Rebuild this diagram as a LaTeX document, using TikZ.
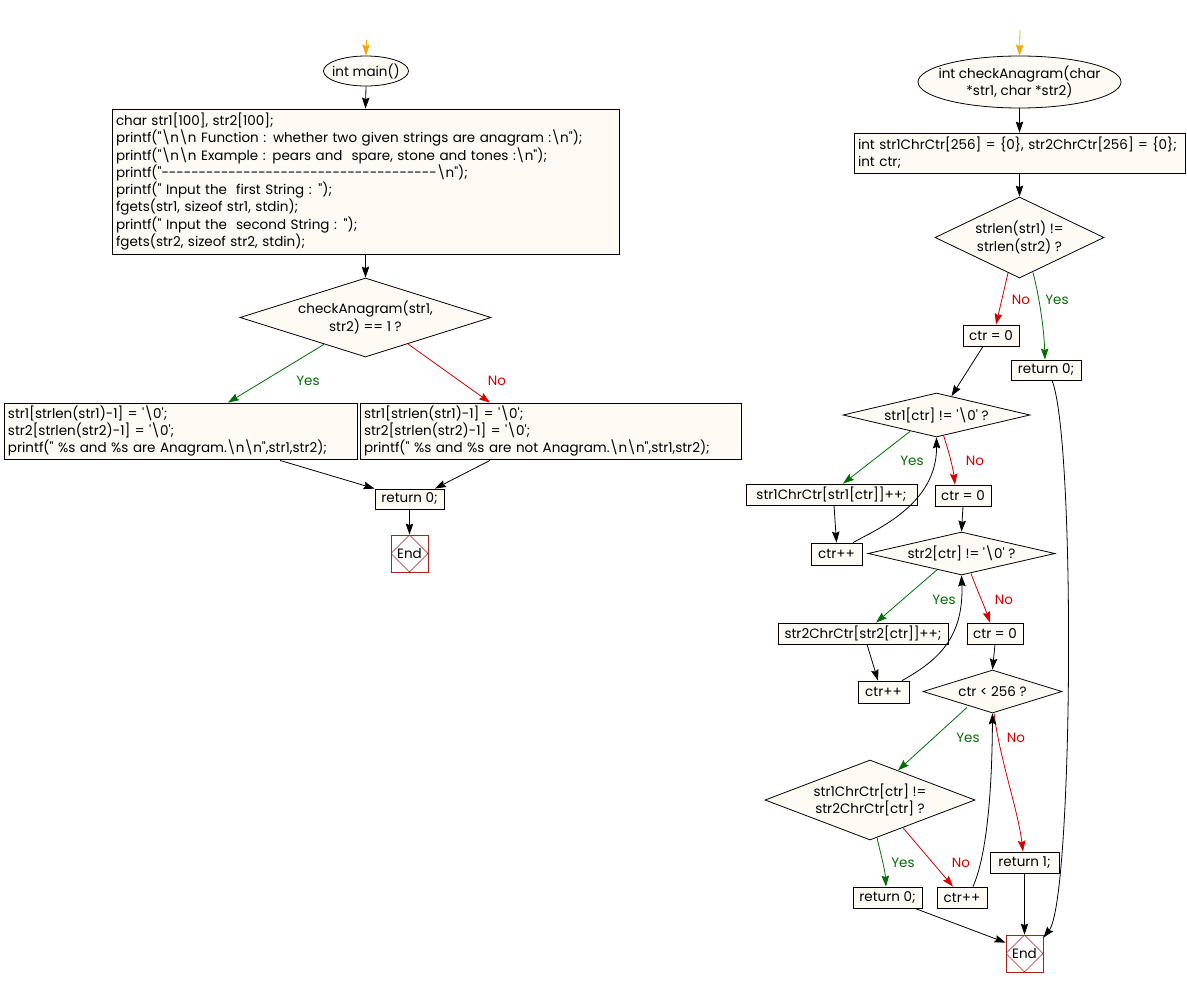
\documentclass[tikz,border=0pt]{standalone}
\usepackage{fontspec}
\setmainfont{Poppins}
\usetikzlibrary{shapes.geometric,arrows.meta,calc}
\definecolor{nodefill}{RGB}{255,250,243}
\definecolor{yesgreen}{RGB}{0,110,0}
\definecolor{nored}{RGB}{215,0,0}
\definecolor{endred}{RGB}{170,30,30}
\definecolor{startorange}{RGB}{255,165,0}
\newcommand{\bsl}{\textbackslash}
\newcommand{\sqt}{\textquotesingle}
\newcommand{\dqt}{\textquotedbl}
\newcommand{\txtfont}{\fontsize{13.5}{17.3}\selectfont}
\tikzset{
  base/.style={draw, line width=0.8pt, fill=nodefill, font=\txtfont, inner sep=0pt},
  proc/.style={base, rectangle, align=center},
  block/.style={base, rectangle, align=left, inner xsep=4pt},
  decide/.style={base, diamond, align=center},
  term/.style={base, ellipse, align=center},
  endnode/.style={draw=endred, line width=0.8pt, fill=white, rectangle, inner sep=0pt,
    minimum width=37pt, minimum height=37pt, font=\txtfont,
    path picture={\draw[endred, line width=0.5pt] (path picture bounding box.north) -- (path picture bounding box.east) -- (path picture bounding box.south) -- (path picture bounding box.west) -- cycle;}},
  flow/.style={draw, line width=0.8pt, -{Stealth[length=11pt,width=7.5pt,inset=1.5pt]}},
  yesflow/.style={flow, yesgreen},
  noflow/.style={flow, nored},
  startflow/.style={flow, startorange},
  yeslbl/.style={text=yesgreen, font=\txtfont, inner sep=0pt},
  nolbl/.style={text=nored, font=\txtfont, inner sep=0pt},
}
\begin{document}
\begin{tikzpicture}[x=1pt,y=-1pt]
\useasboundingbox (0,0) rectangle (1187,988);
% ---------------- left: main ----------------
\coordinate (st1) at (366,40);
\node[term, minimum width=85pt, minimum height=30pt, inner xsep=-20pt] (main) at (366,71) {int main()};
\node[block, minimum width=507pt, minimum height=145pt, text width=499pt] (b1) at (365.5,181.5) {char str1[100], str2[100];\\
printf(\dqt\bsl n\bsl n Function : whether two given strings are anagram :\bsl n\dqt);\\
printf(\dqt\bsl n\bsl n Example : pears and\ \ spare, stone and tones :\bsl n\dqt);\\
printf(\dqt-{}-{}-{}-{}-{}-{}-{}-{}-{}-{}-{}-{}-{}-{}-{}-{}-{}-{}-{}-{}-{}-{}-{}-{}-{}-{}-{}-{}-{}-{}-{}-{}-{}-{}-{}-{}-{}\bsl n\dqt);\\
printf(\dqt\ Input the\ \ first String : \dqt);\\
fgets(str1, sizeof str1, stdin);\\
printf(\dqt\ Input the\ \ second String : \dqt);\\
fgets(str2, sizeof str2, stdin);};
\node[decide, minimum width=251pt, minimum height=79pt, aspect=3.18] (d1) at (365.5,317.5) {checkAnagram(str1,\\ str2) == 1 ?};
\node[block, minimum width=353pt, minimum height=56pt, text width=345pt] (byes) at (180.5,431) {str1[strlen(str1)-1] = \sqt\bsl 0\sqt;\\
str2[strlen(str2)-1] = \sqt\bsl 0\sqt;\\
printf(\dqt\ \%s and \%s are Anagram.\bsl n\bsl n\dqt,str1,str2);};
\node[block, minimum width=381pt, minimum height=56pt, text width=373pt] (bno) at (550.5,431) {str1[strlen(str1)-1] = \sqt\bsl 0\sqt;\\
str2[strlen(str2)-1] = \sqt\bsl 0\sqt;\\
printf(\dqt\ \%s and \%s are not Anagram.\bsl n\bsl n\dqt,str1,str2);};
\node[proc, minimum width=69pt, minimum height=20pt] (r0) at (409.5,499) {return 0;};
\node[endnode] (end1) at (409.5,553.5) {End};

\draw[startflow] (st1) -- (main.north);
\draw[flow] (main.south) -- (b1.north);
\draw[flow] (b1.south) -- (d1.north);
\draw[yesflow] ($(d1.south)+(-41.5,-13)$) -- ($(byes.north)+(47.5,0)$);
\draw[noflow] ($(d1.south)+(42.5,-13.4)$) -- ($(bno.north)+(-60.5,0)$);
\node[yeslbl] (ly1) at (308,381) {Yes};
\node[nolbl] (ln1) at (497,381) {No};
\draw[flow] ($(byes.south)+(99.5,1)$) -- (r0.north west);
\draw[flow] ($(bno.south)+(-60.5,1)$) -- ($(r0.north)+(25.5,0)$);
\draw[flow] (r0.south) -- (end1.north);

% ---------------- right: checkAnagram ----------------
\coordinate (st2) at (1020,30);
\node[term, minimum width=203pt, minimum height=52pt, inner xsep=-30pt] (fn) at (1019.5,82) {int checkAnagram(char\\ *str1, char *str2)};
\node[block, minimum width=331pt, minimum height=40pt, text width=323pt] (b2) at (1019.5,153) {int str1ChrCtr[256] = \{0\}, str2ChrCtr[256] = \{0\};\\ int ctr;};
\node[decide, minimum width=169pt, minimum height=81pt, aspect=2.09] (d3) at (1019.5,237.5) {strlen(str1) !=\\ strlen(str2) ?};
\node[proc, minimum width=56pt, minimum height=21pt] (c0a) at (991,335.5) {ctr = 0};
\node[proc, minimum width=70pt, minimum height=20pt] (r0b) at (1046,370) {return 0;};
\node[decide, minimum width=187pt, minimum height=44pt, aspect=4.25] (d4) at (936.5,415) {str1[ctr] != \sqt\bsl 0\sqt\ ?};
\node[proc, minimum width=171pt, minimum height=21pt] (s1) at (831.5,494.5) {str1ChrCtr[str1[ctr]]++;};
\node[proc, minimum width=56pt, minimum height=21pt] (c0b) at (963,495.5) {ctr = 0};
\node[proc, minimum width=51pt, minimum height=22pt] (cpp1) at (836.5,554) {ctr++};
\node[decide, minimum width=187pt, minimum height=43pt, aspect=4.35] (d5) at (961.5,553.5) {str2[ctr] != \sqt\bsl 0\sqt\ ?};
\node[proc, minimum width=170pt, minimum height=21pt] (s2) at (863,633.5) {str2ChrCtr[str2[ctr]]++;};
\node[proc, minimum width=56pt, minimum height=21pt] (c0c) at (995,633.5) {ctr = 0};
\node[proc, minimum width=51pt, minimum height=22pt] (cpp2) at (883.5,692) {ctr++};
\node[decide, minimum width=139pt, minimum height=43pt, aspect=3.23] (d6) at (992.5,691.5) {ctr \textless\ 256 ?};
\node[decide, minimum width=210pt, minimum height=80pt, aspect=2.62] (d7) at (870,800) {str1ChrCtr[ctr] !=\\ str2ChrCtr[ctr] ?};
\node[proc, minimum width=69pt, minimum height=21pt] (r0c) at (887.5,897.5) {return 0;};
\node[proc, minimum width=50pt, minimum height=21pt] (cpp3) at (962,897.5) {ctr++};
\node[proc, minimum width=69pt, minimum height=21pt] (r1) at (1024.5,862.5) {return 1;};
\node[endnode] (end2) at (1024.5,953.5) {End};

\draw[startflow] (st2) -- (fn.north);
\draw[flow] (fn.south) -- (b2.north);
\draw[flow] (b2.south) -- (d3.north);
\draw[noflow] ($(d3.south)+(-11.5,-5.5)$) -- ($(c0a.north)+(5,0)$);
\draw[yesflow] ($(d3.south)+(13.5,-6)$) .. controls (1040,300) and (1044,330) .. ($(r0b.north)+(-1,0)$);
\node[nolbl] (ln3) at (1021,300) {No};
\node[yeslbl] (ly3) at (1057,300) {Yes};
\draw[flow] ($(c0a.south)+(-8,0)$) -- ($(d4.north)+(15,3.5)$);
\draw[flow] ($(r0b.south)+(6,0)$) .. controls (1076,440) and (1073,900) .. ($(end2.north east)+(0,3)$);

\draw[yesflow] ($(d4.south)+(-26.5,-6)$) -- ($(s1.north)+(11.5,0)$);
\draw[noflow] ($(d4.south)+(7,-2)$) .. controls (949,452) and (953,468) .. ($(c0b.north)+(-8,0)$);
\node[yeslbl] (ly4) at (912,461) {Yes};
\node[nolbl] (ln4) at (975,461) {No};
\draw[flow] ($(s1.south)+(2.5,0)$) -- (cpp1.north);
\draw[flow] ($(cpp1.north)+(16.5,0)$) .. controls (875,530) and (937,505) .. (d4.south);
\draw[flow] (c0b.south) -- (d5.north);

\draw[yesflow] ($(d5.south)+(-24.5,-5.6)$) -- ($(s2.north)+(13,0)$);
\draw[noflow] ($(d5.south)+(9.5,-2)$) .. controls (977,590) and (984,605) .. ($(c0c.north)+(-5,0)$);
\node[yeslbl] (ly5) at (944,600) {Yes};
\node[nolbl] (ln5) at (1004,600) {No};
\draw[flow] ($(s2.south)+(4,0)$) -- ($(cpp2.north)+(-5.5,0)$);
\draw[flow] ($(cpp2.north)+(18.5,0)$) .. controls (935,662) and (964,640) .. (d5.south);
\draw[flow] (c0c.south) -- (d6.north);

\draw[yesflow] ($(d6.south)+(-25.5,-6)$) -- ($(d7.north)+(28,10.7)$);
\draw[noflow] ($(d6.south)+(1.5,0)$) .. controls (1000,760) and (1018,810) .. ($(r1.north)+(-1.5,0)$);
\node[yeslbl] (ly6) at (968,738) {Yes};
\node[nolbl] (ln6) at (1016,738) {No};

\draw[yesflow] ($(d7.south)+(7,-2.7)$) .. controls (881,855) and (885,870) .. ($(r0c.north)+(-1.5,0)$);
\draw[noflow] ($(d7.south)+(33,-12.6)$) -- ($(cpp3.north)+(-9,0)$);
\node[yeslbl] (ly7) at (903,863) {Yes};
\node[nolbl] (ln7) at (961,863) {No};
\draw[flow] ($(cpp3.north)+(11,0)$) .. controls (987,855) and (992,790) .. (d6.south);
\draw[flow] ($(r0c.south)+(27.5,0)$) -- ($(end2.north west)+(0,8)$);
\draw[flow] (r1.south) -- (end2.north);
\end{tikzpicture}
\end{document}
